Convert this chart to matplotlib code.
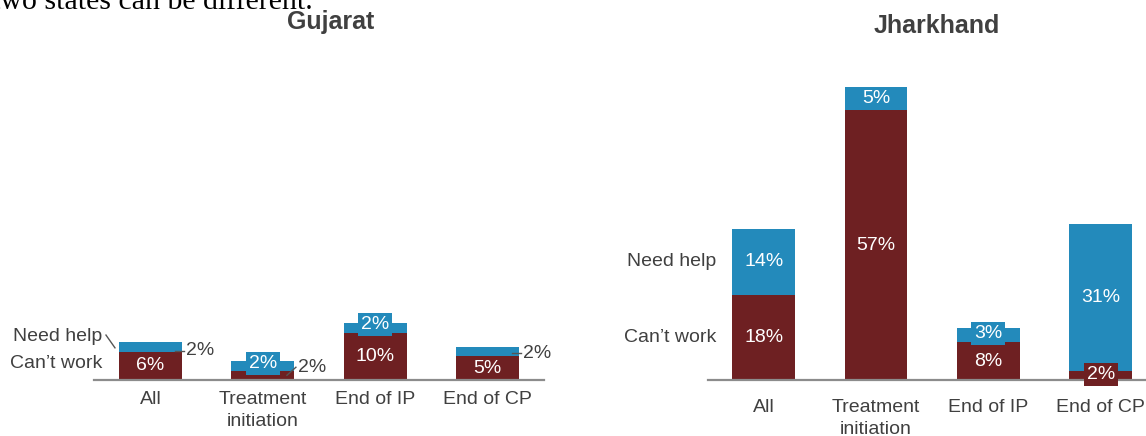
import numpy as np
import matplotlib
matplotlib.use("Agg")
import matplotlib.pyplot as plt

plt.rcParams["font.family"] = ["Liberation Sans", "DejaVu Sans"]

# Daten
categories = ["All", "Treatment\ninitiation", "End of IP", "End of CP"]
gujarat_cant_work = [6, 2, 10, 5]
gujarat_need_help = [2, 2, 2, 2]
jharkhand_cant_work = [18, 57, 8, 2]
jharkhand_need_help = [14, 5, 3, 31]
series_labels = ["Can\u2019t work", "Need help"]
panel_titles = ["Gujarat", "Jharkhand"]

# Stil
DARK = "#6E2022"
BLUE = "#238ABB"
GREY = "#404040"
LINE = "#8C8C8C"
W = 0.56
YMAX = 65
PX_PER_UNIT = 4.73

fig = plt.figure(figsize=(11.46, 4.36), dpi=100)
h = YMAX * PX_PER_UNIT / 436
ax_g = fig.add_axes([94.3 / 1146, 56 / 436, 449.3 / 1146, h])
ax_j = fig.add_axes([707.5 / 1146, 56 / 436, 449.3 / 1146, h])


def draw_bars(ax, cant, help_, tick_pad):
    x = np.arange(len(categories))
    ax.bar(x, cant, W, color=DARK)
    ax.bar(x, help_, W, bottom=cant, color=BLUE)
    ax.set_xlim(-0.5, 3.5)
    ax.set_ylim(0, YMAX)
    ax.set_xticks(x, categories)
    ax.tick_params(axis="x", length=0, pad=tick_pad, labelsize=14,
                   labelcolor=GREY)
    for lbl in ax.get_xticklabels():
        lbl.set_linespacing(1.4)
    ax.set_yticks([])
    for s in ["top", "left", "right"]:
        ax.spines[s].set_visible(False)
    ax.spines["bottom"].set_color(LINE)
    ax.spines["bottom"].set_linewidth(1.6)
    ax.patch.set_visible(False)


def inside(ax, i, y, value, color, box=False):
    kw = {}
    if box:
        kw["bbox"] = dict(boxstyle="square,pad=0.15", fc=color, ec="none")
    ax.text(i, y, f"{value}%", ha="center", va="center", color="white",
            fontsize=14, **kw)


def outside(ax, i, y0, y1, value):
    right = i + W / 2
    ax.plot([right - 0.065, right + 0.015], [y0, y1], color="#555555", lw=1)
    ax.text(right + 0.035, y1, f"{value}%", ha="left", va="center",
            color=GREY, fontsize=14)


# Gujarat
draw_bars(ax_g, gujarat_cant_work, gujarat_need_help, 8)
c, n = gujarat_cant_work, gujarat_need_help
inside(ax_g, 0, c[0] / 2, c[0], DARK)
outside(ax_g, 0, c[0] + n[0] / 2 - 0.8, c[0] + n[0] / 2 - 0.8, n[0])
outside(ax_g, 1, c[1] / 2, c[1] / 2 + 1.7, c[1])
inside(ax_g, 1, c[1] + n[1] / 2 + 0.5, n[1], BLUE, box=True)
inside(ax_g, 2, c[2] / 2, c[2], DARK)
inside(ax_g, 2, c[2] + n[2] / 2 + 0.7, n[2], BLUE, box=True)
inside(ax_g, 3, c[3] / 2, c[3], DARK)
outside(ax_g, 3, c[3] + n[3] / 2 - 0.3, c[3] + n[3] / 2 - 0.3, n[3])

left = -W / 2
tot = c[0] + n[0]
ax_g.text(left - 0.15, tot + 1.1, series_labels[1], ha="right", va="center",
          color=GREY, fontsize=14)
ax_g.text(left - 0.15, c[0] / 2 + 0.4, series_labels[0], ha="right",
          va="center", color=GREY, fontsize=14)
ax_g.plot([left - 0.116, left - 0.036], [tot + 1.5, tot - 1.2],
          color="#555555", lw=1)

# Jharkhand
draw_bars(ax_j, jharkhand_cant_work, jharkhand_need_help, 13.5)
c, n = jharkhand_cant_work, jharkhand_need_help
for i in range(len(categories)):
    inside(ax_j, i, c[i] / 2 + (0.2 if i == 3 else 0), c[i], DARK,
           box=(i == 3))
    inside(ax_j, i, c[i] + n[i] / 2 + (0.4 if i == 2 else 0), n[i], BLUE,
           box=(i == 2))
ax_j.text(left - 0.145, c[0] + n[0] / 2, series_labels[1], ha="right",
          va="center", color=GREY, fontsize=14)
ax_j.text(left - 0.145, c[0] / 2, series_labels[0], ha="right",
          va="center", color=GREY, fontsize=14)

# Titel
fig.text(331 / 1146, (436 - 29) / 436, panel_titles[0], ha="center",
         va="baseline", fontsize=18, fontweight="bold", color=GREY)
fig.text(936.5 / 1146, (436 - 33) / 436, panel_titles[1], ha="center",
         va="baseline", fontsize=18, fontweight="bold", color=GREY)

# abgeschnittene Textzeile oben
fig.text(-8 / 1146, (436 - 9) / 436, "two states can be different.",
         family="Liberation Serif", fontsize=21.5, va="baseline",
         color="black")

fig.savefig("out.png", dpi=100)
